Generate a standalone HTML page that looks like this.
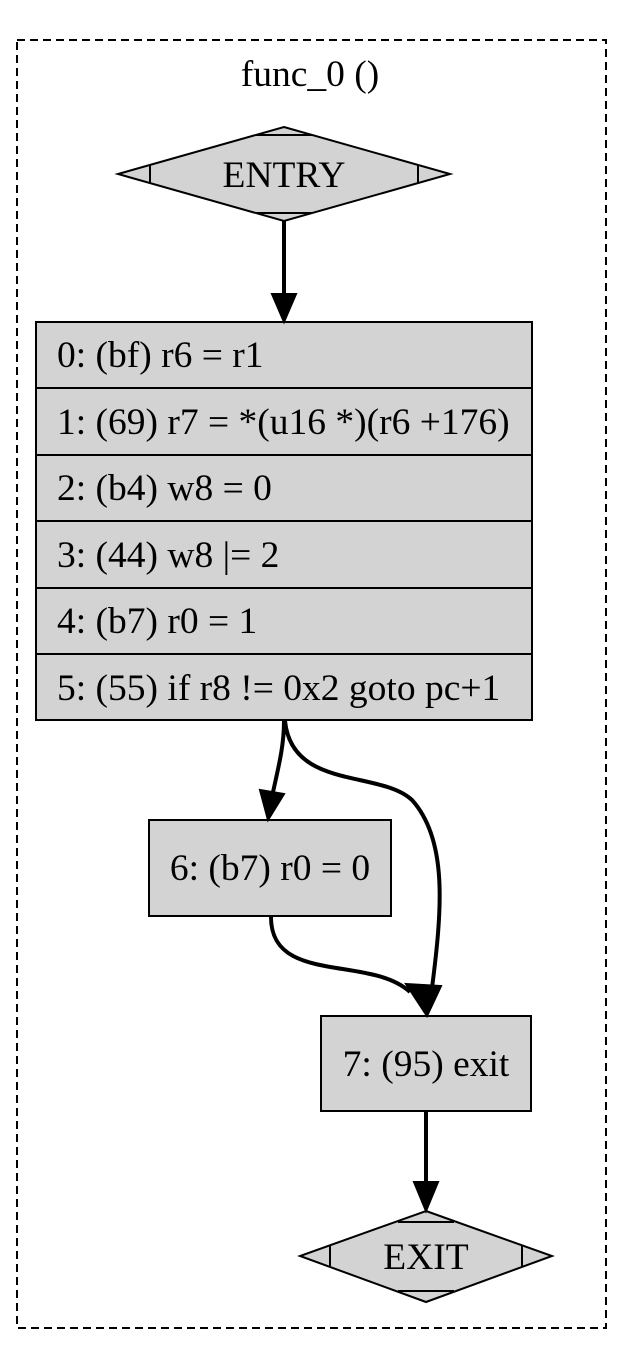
<!DOCTYPE html>
<html><head><meta charset="utf-8"><style>
html,body{margin:0;padding:0;background:#fff;}
svg{display:block;}
svg text{font-family:"Liberation Serif",serif;font-size:37.5px;fill:#000;}
</style></head><body>
<svg width="636" height="1352" viewBox="0 0 636 1352" xmlns="http://www.w3.org/2000/svg">
<rect x="17" y="40" width="589" height="1288" fill="none" stroke="#000" stroke-width="2" stroke-dasharray="8,5"/>
<text x="310" y="86" text-anchor="middle" font-size="37.5">func_0 ()</text>

<polygon points="284,127 450,174 284,221 118,174" fill="#d3d3d3" stroke="#000" stroke-width="2"/>
<line x1="150" y1="165" x2="150" y2="183" stroke="#000" stroke-width="2"/>
<line x1="418" y1="165" x2="418" y2="183" stroke="#000" stroke-width="2"/>
<line x1="256" y1="135" x2="312" y2="135" stroke="#000" stroke-width="2"/>
<line x1="256" y1="213" x2="312" y2="213" stroke="#000" stroke-width="2"/>
<text x="284" y="187" text-anchor="middle" font-size="37.5">ENTRY</text>

<rect x="36" y="322" width="496" height="398" fill="#d3d3d3" stroke="#000" stroke-width="2"/>
<line x1="36" y1="388" x2="532" y2="388" stroke="#000" stroke-width="2"/>
<line x1="36" y1="455" x2="532" y2="455" stroke="#000" stroke-width="2"/>
<line x1="36" y1="521" x2="532" y2="521" stroke="#000" stroke-width="2"/>
<line x1="36" y1="588" x2="532" y2="588" stroke="#000" stroke-width="2"/>
<line x1="36" y1="654" x2="532" y2="654" stroke="#000" stroke-width="2"/>
<text x="57" y="367" font-size="37.5">0: (bf) r6 = r1</text>
<text x="57" y="434" font-size="37.5">1: (69) r7 = *(u16 *)(r6 +176)</text>
<text x="57" y="500" font-size="37.5">2: (b4) w8 = 0</text>
<text x="57" y="567" font-size="37.5">3: (44) w8 |= 2</text>
<text x="57" y="633" font-size="37.5">4: (b7) r0 = 1</text>
<text x="57" y="700" font-size="37.5">5: (55) if r8 != 0x2 goto pc+1</text>

<rect x="149" y="820" width="242" height="96" fill="#d3d3d3" stroke="#000" stroke-width="2"/>
<text x="270" y="880" text-anchor="middle" font-size="37.5">6: (b7) r0 = 0</text>

<rect x="321" y="1016" width="210" height="95" fill="#d3d3d3" stroke="#000" stroke-width="2"/>
<text x="426" y="1076" text-anchor="middle" font-size="37.5">7: (95) exit</text>

<polygon points="426,1211 552,1256 426,1302 300,1256" fill="#d3d3d3" stroke="#000" stroke-width="2"/>
<line x1="330" y1="1246" x2="330" y2="1266" stroke="#000" stroke-width="2"/>
<line x1="522" y1="1246" x2="522" y2="1266" stroke="#000" stroke-width="2"/>
<line x1="398" y1="1222" x2="454" y2="1222" stroke="#000" stroke-width="2"/>
<line x1="398" y1="1291" x2="454" y2="1291" stroke="#000" stroke-width="2"/>
<text x="426" y="1269" text-anchor="middle" font-size="37.5">EXIT</text>

<g stroke="#000" stroke-width="4" fill="none">
<path d="M284,221 L284,294"/>
<path d="M284,721 C284,745 279,765 273,792"/>
<path d="M285,721 C292,790 380,770 412,800 C448,840 442,910 432,988"/>
<path d="M271,917 C271,985 370,955 410,992"/>
<path d="M426,1111 L426,1182"/>
</g>
<g fill="#000" stroke="#000" stroke-width="2">
<polygon points="272,294 296,294 284,322"/>
<polygon points="260,790 284,794 268,820"/>
<polygon points="406,984 441,986 427,1016"/>
<polygon points="414,1182 438,1182 426,1211"/>
</g>
</svg>
</body></html>
